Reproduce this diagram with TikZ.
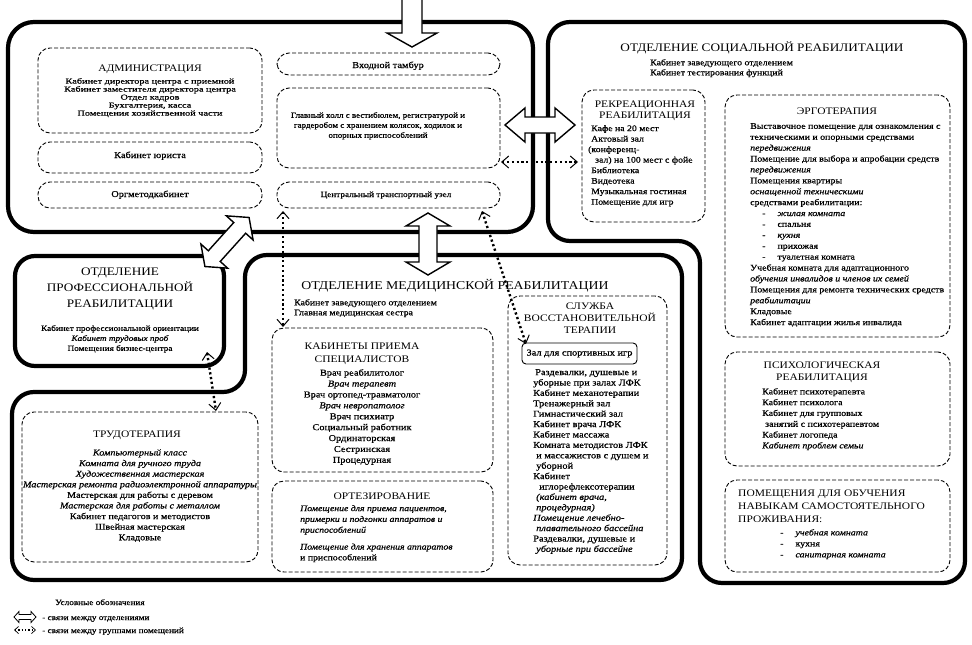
\documentclass[tikz,border=0pt]{standalone}
\usepackage{fontspec}
\setmainfont{Liberation Serif}[FakeStretch=1.15]
\newfontfamily\bodyserif{Liberation Serif}[FakeStretch=1.15, FakeBold=0.6]
\newfontfamily\wideserif{Liberation Serif}[FakeStretch=1.35, FakeBold=0.6]
\usetikzlibrary{arrows.meta,fit}
\tikzset{
  deptline/.style={line width=4.2pt, rounded corners=22pt, line join=round},
  dbox/.style={draw, line width=0.9pt, dash pattern=on 4pt off 2pt, rounded corners=12pt, inner sep=0pt},
  blockarr/.style={draw, fill=white, line join=miter},
  dotcon/.style={line width=2.4pt, dash pattern=on 2.2pt off 2.6pt,
    {Straight Barb[length=7pt,width=12pt,line width=1pt]}-{Straight Barb[length=7pt,width=12pt,line width=1pt]}},
  dtitle/.style={inner sep=0pt, font=\fontsize{11.5}{15}\selectfont},
  stitle/.style={inner sep=0pt, font=\fontsize{10}{12}\selectfont},
  txt/.style={inner sep=0pt, font=\bodyserif\fontsize{9}{10.5}\selectfont},
  pics/dblarr/.style n args={4}{code={
    \draw[blockarr] (-#1,0) -- (-#1+#4,-#3) -- (-#1+#4,-#2) -- (#1-#4,-#2) -- (#1-#4,-#3) -- (#1,0)
      -- (#1-#4,#3) -- (#1-#4,#2) -- (-#1+#4,#2) -- (-#1+#4,#3) -- cycle;
  }},
}
\begin{document}
\begin{tikzpicture}[x=1pt,y=-1pt]
\useasboundingbox[fill=white] (0,0) rectangle (972,645);

% ---------- department outlines ----------
\draw[deptline, rounded corners=26pt] (8,22) rectangle (533,232);
\draw[deptline] (548,22) -- (965,22) -- (965,583) -- (700,583) -- (700,241) -- (548,241) -- cycle;
\draw[deptline, rounded corners=20pt] (15,256) rectangle (224,366);
\draw[deptline] (12,392) -- (245,392) -- (245,255) -- (682,255) -- (682,580) -- (12,580) -- cycle;

% ---------- block arrows ----------
\fill[white] (402,-5) -- (402,33) -- (387,33) -- (412,47) -- (437,33) -- (422,33) -- (422,-5) -- cycle;
\draw[line width=1.4pt, line join=miter] (402,-5) -- (402,33) -- (387,33) -- (412,47) -- (437,33) -- (422,33) -- (422,-5);
\pic[line width=1.4pt, rotate=90] at (428,244) {dblarr={31}{9}{22}{13}};
\pic[line width=1.4pt] at (540,125) {dblarr={35}{8}{17}{20}};
\pic[line width=1.4pt, rotate=48] at (227,242) {dblarr={33}{8}{18}{14}};

% ---------- administration ----------
\node[dbox, fit={(38,48) (262,133)}] (admbox) {};
\node[stitle, anchor=base] (admtitle) at (150,71) {АДМИНИСТРАЦИЯ};
\node[txt, anchor=north, align=center, font=\wideserif\fontsize{7.6}{8}\selectfont] (admitems) at (150,78)
  {Кабинет директора центра с приемной\\Кабинет заместителя директора центра\\Отдел кадров\\Бухгалтерия, касса\\Помещения хозяйственной части};
\node[dbox, fit={(38,142) (262,173)}] (jurbox) {};
\node[txt, anchor=base] (jurtxt) at (150,158) {Кабинет юриста};
\node[dbox, fit={(38,182) (262,208)}] (orgbox) {};
\node[txt, anchor=base] (orgtxt) at (150,197) {Оргметодкабинет};
\node[dbox, fit={(277,53) (500,75)}] (tambox) {};
\node[txt, anchor=base] (tamtxt) at (388,68) {Входной тамбур};
\node[dbox, fit={(277,88) (500,168)}] (hallbox) {};
\node[txt, anchor=north, align=center, font=\bodyserif\fontsize{7.8}{10}\selectfont] (halltxt) at (378,112)
  {Главный холл с вестибюлем, регистратурой и\\гардеробом с хранением колясок, ходилок и\\опорных приспособлений};
\node[dbox, fit={(277,182) (500,208)}] (trbox) {};
\node[txt, anchor=base, font=\bodyserif\fontsize{8}{10}\selectfont] (trtxt) at (386,197) {Центральный транспортный узел};

% ---------- social rehabilitation ----------
\node[dtitle, anchor=base] (soctitle) at (762,51) {ОТДЕЛЕНИЕ СОЦИАЛЬНОЙ РЕАБИЛИТАЦИИ};
\node[txt, anchor=north west, align=left, font=\bodyserif\fontsize{8.5}{10}\selectfont] (soczav) at (650,59)
  {Кабинет заведующего отделением\\Кабинет тестирования функций};
\node[dbox, fit={(582,90) (705,222)}] (recbox) {};
\node[stitle, anchor=north, align=center, font=\fontsize{10}{11}\selectfont] (rectitle) at (645,101)
  {РЕКРЕАЦИОННАЯ\\РЕАБИЛИТАЦИЯ};
\node[txt, anchor=north west, align=left, font=\bodyserif\fontsize{8.5}{10.5}\selectfont] (recitems) at (591,125)
  {Кафе на 20 мест\\Актовый зал\\\hspace*{-3pt}(конференц-\\\hspace*{4pt}зал) на 100 мест с фойе\\Библиотека\\Видеотека\\Музыкальная гостиная\\Помещение для игр};
\node[dbox, fit={(725,95) (950,337)}] (ergbox) {};
\node[stitle, anchor=base] (ergtitle) at (837,114) {ЭРГОТЕРАПИЯ};
\node[txt, anchor=north west, align=left, font=\bodyserif\fontsize{8.6}{10.9}\selectfont] (ergitems) at (750,123)
  {Выставочное помещение для ознакомления с\\техническими и опорными средствами\\\textit{передвижения}\\
   Помещение для выбора и апробации средств\\\textit{передвижения}\\Помещения квартиры\\
   \textit{оснащенной техническими}\\средствами реабилитации:\\
   \hspace*{12pt}-\hspace{12pt}\textit{жилая комната}\\
   \hspace*{12pt}-\hspace{12pt}спальня\\
   \hspace*{12pt}-\hspace{12pt}\textit{кухня}\\
   \hspace*{12pt}-\hspace{12pt}прихожая\\
   \hspace*{12pt}-\hspace{12pt}туалетная комната\\
   Учебная комната для адаптационного\\\textit{обучения инвалидов и членов их семей}\\
   Помещения для ремонта технических средств\\\textit{реабилитации}\\Кладовые\\Кабинет адаптации жилья инвалида};
\node[dbox, fit={(725,352) (950,466)}] (psybox) {};
\node[stitle, anchor=north, align=center] (psytitle) at (822,362) {ПСИХОЛОГИЧЕСКАЯ\\РЕАБИЛИТАЦИЯ};
\node[txt, anchor=north west, align=left, font=\bodyserif\fontsize{8.6}{10.8}\selectfont] (psyitems) at (762,388)
  {Кабинет психотерапевта\\Кабинет психолога\\Кабинет для групповых\\\hspace*{3pt}занятий с психотерапевтом\\Кабинет логопеда\\\textit{Кабинет проблем семьи}};
\node[dbox, fit={(725,480) (950,572)}] (livbox) {};
\node[stitle, anchor=north west, align=left, font=\fontsize{10}{13}\selectfont] (livtitle) at (738,490)
  {ПОМЕЩЕНИЯ ДЛЯ ОБУЧЕНИЯ\\НАВЫКАМ САМОСТОЯТЕЛЬНОГО\\ПРОЖИВАНИЯ:};
\node[txt, anchor=north west, align=left, font=\bodyserif\fontsize{8.6}{11}\selectfont] (livitems) at (780,529)
  {-\hspace{12pt}\textit{учебная комната}\\-\hspace{12pt}кухня\\-\hspace{12pt}\textit{санитарная комната}};

% ---------- professional rehabilitation ----------
\node[dtitle, anchor=north, align=center, font=\fontsize{11.5}{16}\selectfont] (proftitle) at (120,268)
  {ОТДЕЛЕНИЕ\\ПРОФЕССИОНАЛЬНОЙ\\РЕАБИЛИТАЦИИ};
\node[txt, anchor=north, align=center, font=\bodyserif\fontsize{8}{10}\selectfont] (profitems) at (120,325)
  {Кабинет профессиональной ориентации\\\textit{Кабинет трудовых проб}\\Помещения бизнес-центра};

% ---------- trudotherapy ----------
\node[dbox, fit={(22,412) (258,562)}] (trudbox) {};
\node[stitle, anchor=base] (trudtitle) at (137,437) {ТРУДОТЕРАПИЯ};
\node[txt, anchor=north, align=center, font=\bodyserif\fontsize{8.8}{10.6}\selectfont] (truditems) at (140,449)
  {\textit{Компьютерный класс}\\\textit{Комната для ручного труда}\\\textit{Художественная мастерская}\\
   \textit{Мастерская ремонта радиоэлектронной аппаратуры}\\Мастерская для работы с деревом\\
   \textit{Мастерская для работы с металлом}\\Кабинет педагогов и методистов\\Швейная мастерская\\Кладовые};

% ---------- medical rehabilitation ----------
\node[dtitle, anchor=base, font=\fontsize{12}{15}\selectfont] (medtitle) at (455,289) {ОТДЕЛЕНИЕ МЕДИЦИНСКОЙ РЕАБИЛИТАЦИИ};
\node[txt, anchor=north west, align=left, font=\bodyserif\fontsize{8.5}{10}\selectfont] (medzav) at (294,299)
  {Кабинет заведующего отделением\\Главная медицинская сестра};
\node[dbox, fit={(272,328) (493,472)}] (specbox) {};
\node[stitle, anchor=north, align=center, font=\fontsize{10}{12.5}\selectfont] (spectitle) at (362,343) {КАБИНЕТЫ ПРИЕМА\\СПЕЦИАЛИСТОВ};
\node[txt, anchor=north, align=center, font=\bodyserif\fontsize{9}{10.9}\selectfont] (specitems) at (362,369)
  {Врач реабилитолог\\\textit{Врач терапевт}\\Врач ортопед-травматолог\\\textit{Врач невропатолог}\\Врач психиатр\\
   Социальный работник\\Ординаторская\\Сестринская\\Процедурная};
\node[dbox, fit={(272,481) (493,572)}] (ortbox) {};
\node[stitle, anchor=base] (orttitle) at (382,499) {ОРТЕЗИРОВАНИЕ};
\node[txt, anchor=north west, align=left, font=\bodyserif\fontsize{8.5}{10.8}\selectfont] (ortitems) at (300,505)
  {\textit{Помещение для приема пациентов,}\\\textit{примерки и подгонки аппаратов и}\\\textit{приспособлений}\\[6pt]
   \textit{Помещение для хранения аппаратов}\\и приспособлений};
\node[dbox, fit={(508,296) (667,565)}] (servbox) {};
\node[stitle, anchor=north, align=center] (servtitle) at (590,303) {СЛУЖБА\\ВОССТАНОВИТЕЛЬНОЙ\\ТЕРАПИИ};
\node[draw, line width=0.9pt, rounded corners=4pt, minimum width=115pt, minimum height=21pt, inner sep=0pt,
      font=\bodyserif\fontsize{9}{10}\selectfont] (zal) at (579.5,353.5) {Зал для спортивных игр};
\node[txt, anchor=north west, align=left, font=\bodyserif\fontsize{9}{10.4}\selectfont] (servitems) at (533,369)
  {\hspace*{2pt}Раздевалки, душевые и\\уборные при залах ЛФК\\Кабинет механотерапии\\Тренажерный зал\\
   Гимнастический зал\\Кабинет врача ЛФК\\Кабинет массажа\\Комната методистов ЛФК\\
   \hspace*{3pt}и массажистов с душем и\\\hspace*{3pt}уборной\\Кабинет\\\hspace*{6pt}иглорефлексотерапии\\
   \hspace*{3pt}\textit{(кабинет врача,}\\\hspace*{3pt}\textit{процедурная)}\\\textit{Помещение лечебно-}\\
   \hspace*{3pt}\textit{плавательного бассейна}\\Раздевалки, душевые и\\\hspace*{3pt}\textit{уборные при бассейне}};

% ---------- dotted connections ----------
\coordinate (c1a) at (501,162);
\coordinate (c1b) at (578,162);
\draw[dotcon] (c1a) -- (c1b);
\coordinate (c2a) at (283,211);
\coordinate (c2b) at (283,327);
\draw[dotcon] (c2a) -- (c2b);
\coordinate (c3a) at (482,211);
\coordinate (c3b) at (526,344);
\draw[dotcon] (c3a) -- (c3b);
\coordinate (c4a) at (207,352);
\coordinate (c4b) at (216,411);
\draw[dotcon] (c4a) -- (c4b);

% ---------- legend ----------
\node[txt, anchor=base west, font=\bodyserif\fontsize{8}{9}\selectfont] (legtitle) at (55,605) {Условные обозначения};
\pic[line width=0.8pt] at (25,617) {dblarr={11}{2.5}{5.5}{5}};
\node[txt, anchor=base west, font=\bodyserif\fontsize{8}{9}\selectfont] (leg1) at (42,620) {- связи между отделениями};
\coordinate (lga) at (14,630);
\coordinate (lgb) at (36,630);
\draw[line width=1.4pt, dash pattern=on 1.4pt off 2pt,
  {Straight Barb[length=4pt,width=7pt,line width=0.7pt]}-{Straight Barb[length=4pt,width=7pt,line width=0.7pt]}] (lga) -- (lgb);
\node[txt, anchor=base west, font=\bodyserif\fontsize{8}{9}\selectfont] (leg2) at (42,633) {- связи между группами помещений};
\end{tikzpicture}
\end{document}
